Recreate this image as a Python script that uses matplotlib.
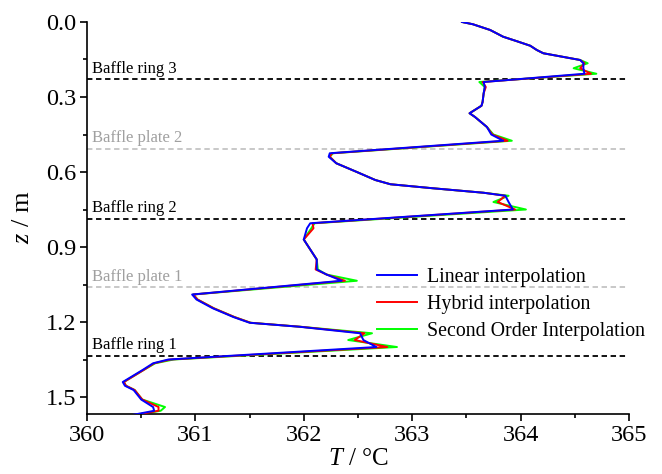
import matplotlib
matplotlib.use("Agg")
import matplotlib.pyplot as plt
from matplotlib.ticker import MultipleLocator

plt.rcParams['font.family'] = 'Liberation Serif'
plt.rcParams['mathtext.fontset'] = 'custom'
plt.rcParams['mathtext.rm'] = 'Liberation Serif'
plt.rcParams['mathtext.it'] = 'Liberation Serif:italic'

# height z (m) and temperature profiles (deg C)
z = [0.000, 0.009, 0.032, 0.059, 0.076, 0.095, 0.112, 0.125, 0.152, 0.165,
     0.185, 0.207, 0.240, 0.260, 0.285, 0.320, 0.335, 0.365, 0.380, 0.420,
     0.450, 0.475, 0.525, 0.539, 0.565, 0.600, 0.632, 0.649, 0.665, 0.683,
     0.695, 0.720, 0.750, 0.805, 0.825, 0.870, 0.910, 0.950, 0.990, 1.010,
     1.035, 1.090, 1.110, 1.145, 1.180, 1.203, 1.219, 1.245, 1.272, 1.300,
     1.350, 1.365, 1.390, 1.440, 1.455, 1.472, 1.510, 1.540, 1.555, 1.575]
t_linear = [363.46, 363.56, 363.72, 363.84, 363.96, 364.09, 364.15, 364.21, 364.55, 364.58,
            364.58, 364.59, 363.66, 363.67, 363.66, 363.65, 363.64, 363.53, 363.58, 363.69,
            363.73, 363.84, 362.24, 362.23, 362.30, 362.49, 362.66, 362.80, 363.19, 363.66,
            363.86, 363.89, 363.93, 362.06, 362.03, 362.00, 362.06, 362.12, 362.12, 362.21,
            362.35, 360.97, 361.01, 361.16, 361.35, 361.50, 361.96, 362.52, 362.55, 362.67,
            360.75, 360.61, 360.52, 360.33, 360.35, 360.43, 360.50, 360.61, 360.62, 360.38]
t_hybrid = [363.46, 363.56, 363.72, 363.84, 363.96, 364.09, 364.15, 364.21, 364.55, 364.59,
            364.55, 364.65, 363.65, 363.68, 363.66, 363.65, 363.64, 363.53, 363.58, 363.69,
            363.74, 363.88, 362.26, 362.24, 362.30, 362.49, 362.66, 362.80, 363.19, 363.66,
            363.86, 363.79, 363.95, 362.08, 362.09, 362.00, 362.06, 362.12, 362.11, 362.21,
            362.38, 360.98, 361.02, 361.17, 361.36, 361.51, 361.97, 362.56, 362.47, 362.77,
            360.77, 360.62, 360.53, 360.34, 360.36, 360.44, 360.51, 360.66, 360.66, 360.40]
t_second = [363.46, 363.56, 363.72, 363.84, 363.96, 364.09, 364.15, 364.21, 364.55, 364.62,
            364.49, 364.70, 363.62, 363.67, 363.66, 363.65, 363.64, 363.53, 363.58, 363.69,
            363.75, 363.92, 362.27, 362.24, 362.30, 362.49, 362.66, 362.80, 363.19, 363.66,
            363.89, 363.75, 364.05, 362.10, 362.07, 362.00, 362.06, 362.12, 362.13, 362.21,
            362.49, 360.98, 361.02, 361.17, 361.36, 361.51, 361.97, 362.63, 362.41, 362.86,
            360.80, 360.63, 360.53, 360.34, 360.36, 360.44, 360.51, 360.72, 360.68, 360.40]

baffle_names = ['Baffle ring 3', 'Baffle plate 2', 'Baffle ring 2', 'Baffle plate 1', 'Baffle ring 1']
baffle_z = [0.230, 0.507, 0.786, 1.060, 1.335]
baffle_kind = ['ring', 'plate', 'ring', 'plate', 'ring']

fig = plt.figure(figsize=(6.62, 4.74), dpi=100)
ax = fig.add_axes([0.1314, 0.1276, 0.8186, 0.826])

for name, zb, kind in zip(baffle_names, baffle_z, baffle_kind):
    if kind == 'ring':
        lc, tc = 'black', 'black'
    else:
        lc, tc = '#c4c4c4', '#a0a0a0'
    ax.axhline(zb, xmin=0, xmax=0.995, color=lc, lw=1.3, linestyle=(0, (3, 2)), zorder=1)
    ax.text(360.05, zb - 0.01, name, color=tc, fontsize=12, ha='left', va='bottom')

ax.plot(t_second, z, color='#00ff00', lw=1.4, label='Second Order Interpolation', zorder=2)
ax.plot(t_hybrid, z, color='#ff0000', lw=1.4, label='Hybrid interpolation', zorder=3)
ax.plot(t_linear, z, color='#0000ff', lw=1.4, label='Linear interpolation', zorder=4)

ax.set_xlim(360, 365)
ax.set_ylim(1.566, 0.0)
ax.xaxis.set_major_locator(MultipleLocator(1))
ax.xaxis.set_minor_locator(MultipleLocator(0.5))
ax.yaxis.set_minor_locator(MultipleLocator(0.15))
ax.set_yticks([0.0, 0.3, 0.6, 0.9, 1.2, 1.5])
ax.set_yticklabels(['0.0', '0.3', '0.6', '0.9', '1.2', '1.5'])

for s in ['top', 'right']:
    ax.spines[s].set_visible(False)
for s in ['left', 'bottom']:
    ax.spines[s].set_linewidth(1.2)
ax.tick_params(which='major', direction='out', length=5, width=1.2, labelsize=17.5, pad=3)
ax.tick_params(which='minor', direction='out', length=3, width=1.2)

ax.set_xlabel(r'$T$ / °C', fontsize=18, labelpad=2)
ax.set_ylabel(r'$z$ / m', fontsize=19, labelpad=8)

handles, labels = ax.get_legend_handles_labels()
ax.legend(handles[::-1], labels[::-1], loc='upper left', bbox_to_anchor=(0.535, 0.372),
          frameon=False, fontsize=14.3, handlelength=2.0, handletextpad=0.5,
          labelspacing=0.4, borderpad=0, borderaxespad=0)

fig.savefig('out.png', dpi=100)
